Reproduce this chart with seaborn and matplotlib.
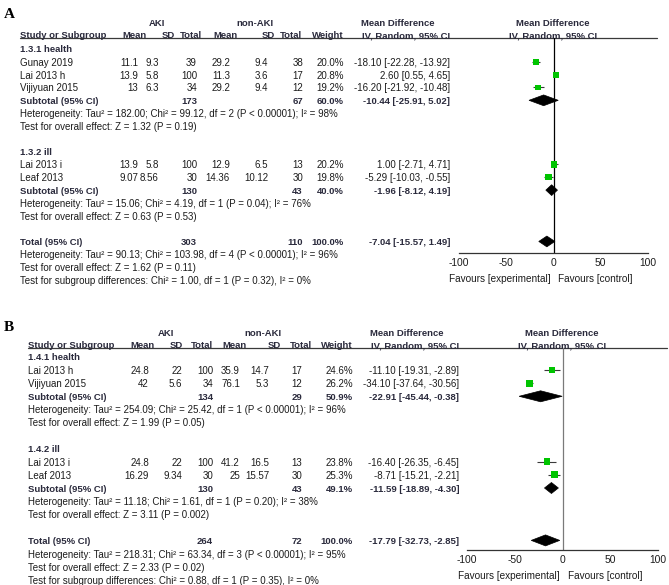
import numpy as np
import pandas as pd
import seaborn as sns
import matplotlib
matplotlib.use("Agg")
import matplotlib.pyplot as plt
from matplotlib.patches import Polygon

# ---------------- Panel A data ----------------
a_groups = ["1.3.1 health", "1.3.2 ill"]
a_study = ["Gunay 2019", "Lai 2013 h", "Vijiyuan 2015", "Lai 2013 i", "Leaf 2013"]
a_study_group = [0, 0, 0, 1, 1]
a_aki_mean = ["11.1", "13.9", "13", "13.9", "9.07"]
a_aki_sd = ["9.3", "5.8", "6.3", "5.8", "8.56"]
a_aki_n = ["39", "100", "34", "100", "30"]
a_non_mean = ["29.2", "11.3", "29.2", "12.9", "14.36"]
a_non_sd = ["9.4", "3.6", "9.4", "6.5", "10.12"]
a_non_n = ["38", "17", "12", "13", "30"]
a_weight = [20.0, 20.8, 19.2, 20.2, 19.8]
a_md = [-18.10, 2.60, -16.20, 1.00, -5.29]
a_lo = [-22.28, 0.55, -21.92, -2.71, -10.03]
a_hi = [-13.92, 4.65, -10.48, 4.71, -0.55]
a_sub_n_aki = ["173", "130"]
a_sub_n_non = ["67", "43"]
a_sub_weight = [60.0, 40.0]
a_sub_md = [-10.44, -1.96]
a_sub_lo = [-25.91, -8.12]
a_sub_hi = [5.02, 4.19]
a_sub_het = ["Heterogeneity: Tau² = 182.00; Chi² = 99.12, df = 2 (P < 0.00001); I² = 98%",
             "Heterogeneity: Tau² = 15.06; Chi² = 4.19, df = 1 (P = 0.04); I² = 76%"]
a_sub_test = ["Test for overall effect: Z = 1.32 (P = 0.19)",
              "Test for overall effect: Z = 0.63 (P = 0.53)"]
a_tot_n = ["303", "110"]
a_tot_weight = 100.0
a_tot_md, a_tot_lo, a_tot_hi = -7.04, -15.57, 1.49
a_tot_het = "Heterogeneity: Tau² = 90.13; Chi² = 103.98, df = 4 (P < 0.00001); I² = 96%"
a_tot_test = "Test for overall effect: Z = 1.62 (P = 0.11)"
a_sub_diff = "Test for subgroup differences: Chi² = 1.00, df = 1 (P = 0.32), I² = 0%"

# ---------------- Panel B data ----------------
b_groups = ["1.4.1 health", "1.4.2 ill"]
b_study = ["Lai 2013 h", "Vijiyuan 2015", "Lai 2013 i", "Leaf 2013"]
b_study_group = [0, 0, 1, 1]
b_aki_mean = ["24.8", "42", "24.8", "16.29"]
b_aki_sd = ["22", "5.6", "22", "9.34"]
b_aki_n = ["100", "34", "100", "30"]
b_non_mean = ["35.9", "76.1", "41.2", "25"]
b_non_sd = ["14.7", "5.3", "16.5", "15.57"]
b_non_n = ["17", "12", "13", "30"]
b_weight = [24.6, 26.2, 23.8, 25.3]
b_md = [-11.10, -34.10, -16.40, -8.71]
b_lo = [-19.31, -37.64, -26.35, -15.21]
b_hi = [-2.89, -30.56, -6.45, -2.21]
b_sub_n_aki = ["134", "130"]
b_sub_n_non = ["29", "43"]
b_sub_weight = [50.9, 49.1]
b_sub_md = [-22.91, -11.59]
b_sub_lo = [-45.44, -18.89]
b_sub_hi = [-0.38, -4.30]
b_sub_het = ["Heterogeneity: Tau² = 254.09; Chi² = 25.42, df = 1 (P < 0.00001); I² = 96%",
             "Heterogeneity: Tau² = 11.18; Chi² = 1.61, df = 1 (P = 0.20); I² = 38%"]
b_sub_test = ["Test for overall effect: Z = 1.99 (P = 0.05)",
              "Test for overall effect: Z = 3.11 (P = 0.002)"]
b_tot_n = ["264", "72"]
b_tot_weight = 100.0
b_tot_md, b_tot_lo, b_tot_hi = -17.79, -32.73, -2.85
b_tot_het = "Heterogeneity: Tau² = 218.31; Chi² = 63.34, df = 3 (P < 0.00001); I² = 95%"
b_tot_test = "Test for overall effect: Z = 2.33 (P = 0.02)"
b_sub_diff = "Test for subgroup differences: Chi² = 0.88, df = 1 (P = 0.35), I² = 0%"

x_ticks = [-100, -50, 0, 50, 100]
fav_left = "Favours [experimental]"
fav_right = "Favours [control]"

# ---------------- style ----------------
sns.set_style("white")
plt.rcParams["font.family"] = ["Liberation Sans", "DejaVu Sans"]

W, H = 669, 585
FS = 7.0
FSB = 6.8
TXT = "#1c1c1c"
HDR = "#2a2a3c"
GREEN = "#00c400"

fig = plt.figure(figsize=(W / 100, H / 100), dpi=100)
bg = fig.add_axes([0, 0, 1, 1])
bg.set_xlim(0, W)
bg.set_ylim(H, 0)
bg.axis("off")


def fmt_ci(m, l, h):
    return f"{m:.2f} [{l:.2f}, {h:.2f}]"


def txt(x, y, s, ha="left", bold=False, color=None, size=None):
    if size is None:
        size = FSB if bold else FS
    bg.text(x, y, s, ha=ha, va="center_baseline", fontsize=size,
            fontweight="bold" if bold else "normal",
            color=color if color else (HDR if bold else TXT))


def draw_panel(L, D):
    ry = lambda r: L["y0"] + L["dy"] * r
    bg.text(L["lab_x"], L["lab_y"], L["label"], ha="left", va="center_baseline",
            fontsize=11, fontweight="bold", color="black",
            family=["Liberation Serif", "DejaVu Serif"])
    # group headers
    txt(L["aki_c"], L["h1"], "AKI", ha="center", bold=True)
    txt(L["non_c"], L["h1"], "non-AKI", ha="center", bold=True)
    txt(L["cih1_c"], L["h1"], "Mean Difference", ha="center", bold=True)
    txt(L["pl_c"], L["h1"], "Mean Difference", ha="center", bold=True)
    txt(L["study_x"], L["h2"], "Study or Subgroup", bold=True)
    for key, lab in [("hmean", "Mean"), ("hsd", "SD"), ("htot", "Total"),
                     ("hnmean", "Mean"), ("hnsd", "SD"), ("hntot", "Total"),
                     ("weight", "Weight")]:
        txt(L[key], L["h2"], lab, ha="right", bold=True)
    txt(L["cih2_c"], L["h2"], "IV, Random, 95% CI", ha="center", bold=True)
    txt(L["pl_c"], L["h2"], "IV, Random, 95% CI", ha="center", bold=True)
    bg.plot([L["study_x"], L["line_x1"]], [L["line_y"], L["line_y"]],
            color="#3a3a3a", lw=0.9)

    # table rows
    r = 0
    s_rows, sub_rows = [], []
    for g, gname in enumerate(D["groups"]):
        txt(L["study_x"], ry(r), gname, bold=True)
        r += 1
        for i, gi in enumerate(D["study_group"]):
            if gi != g:
                continue
            y = ry(r)
            txt(L["study_x"], y, D["study"][i])
            txt(L["mean"], y, D["aki_mean"][i], ha="right")
            txt(L["sd"], y, D["aki_sd"][i], ha="right")
            txt(L["tot"], y, D["aki_n"][i], ha="right")
            txt(L["nmean"], y, D["non_mean"][i], ha="right")
            txt(L["nsd"], y, D["non_sd"][i], ha="right")
            txt(L["ntot"], y, D["non_n"][i], ha="right")
            txt(L["weight"], y, f"{D['weight'][i]:.1f}%", ha="right")
            txt(L["ci"], y, fmt_ci(D["md"][i], D["lo"][i], D["hi"][i]), ha="right")
            s_rows.append(r)
            r += 1
        y = ry(r)
        txt(L["study_x"], y, "Subtotal (95% CI)", bold=True)
        txt(L["tot"], y, D["sub_n_aki"][g], ha="right", bold=True)
        txt(L["ntot"], y, D["sub_n_non"][g], ha="right", bold=True)
        txt(L["weight"], y, f"{D['sub_weight'][g]:.1f}%", ha="right", bold=True)
        txt(L["ci"], y, fmt_ci(D["sub_md"][g], D["sub_lo"][g], D["sub_hi"][g]),
            ha="right", bold=True)
        sub_rows.append(r)
        txt(L["study_x"], ry(r + 1), D["sub_het"][g])
        txt(L["study_x"], ry(r + 2), D["sub_test"][g])
        r += 4
    tot_row = r
    y = ry(r)
    txt(L["study_x"], y, "Total (95% CI)", bold=True)
    txt(L["tot"], y, D["tot_n"][0], ha="right", bold=True)
    txt(L["ntot"], y, D["tot_n"][1], ha="right", bold=True)
    txt(L["weight"], y, f"{D['tot_weight']:.1f}%", ha="right", bold=True)
    txt(L["ci"], y, fmt_ci(D["tot_md"], D["tot_lo"], D["tot_hi"]), ha="right", bold=True)
    txt(L["study_x"], ry(r + 1), D["tot_het"])
    txt(L["study_x"], ry(r + 2), D["tot_test"])
    txt(L["study_x"], ry(r + 3), D["sub_diff"])

    # forest axes
    x0, x1, yt, yb = L["fx0"], L["fx1"], L["line_y"], L["axis_y"]
    ax = fig.add_axes([x0 / W, 1 - yb / H, (x1 - x0) / W, (yb - yt) / H])
    ax.patch.set_alpha(0)
    ax.set_xlim(-100, 100)
    ax.set_ylim((yb - L["y0"]) / L["dy"], (yt - L["y0"]) / L["dy"])
    for sp in ["top", "right", "left"]:
        ax.spines[sp].set_visible(False)
    ax.spines["bottom"].set_color("#333333")
    ax.spines["bottom"].set_linewidth(0.9)
    ax.axvline(0, color=L["zero_col"], lw=0.9, zorder=1)
    ax.set_yticks([])
    ax.set_xticks(x_ticks)
    ax.set_xticklabels([str(t) for t in x_ticks], fontsize=7.4, color=TXT)
    ax.tick_params(axis="x", direction="inout", length=5, width=0.8,
                   color="#333333", pad=1.0)

    df = pd.DataFrame({"md": D["md"], "lo": D["lo"], "hi": D["hi"],
                       "w": D["weight"], "row": s_rows})
    ax.hlines(df["row"], df["lo"], df["hi"], color="#3a3a3a", lw=0.8, zorder=2)
    sns.scatterplot(data=df, x="md", y="row", size="w", sizes=(0, 95),
                    size_norm=(0, 100), marker="s", color=GREEN, linewidth=0,
                    legend=False, ax=ax, zorder=3)
    ax.set_xlabel("")
    ax.set_ylabel("")
    h = 0.42
    dia = [(D["sub_md"][g], D["sub_lo"][g], D["sub_hi"][g], sub_rows[g])
           for g in range(len(D["groups"]))]
    dia.append((D["tot_md"], D["tot_lo"], D["tot_hi"], tot_row))
    for m, lo, hi, rr in dia:
        ax.add_patch(Polygon([(lo, rr), (m, rr - h), (hi, rr), (m, rr + h)],
                             closed=True, facecolor="black", edgecolor="black",
                             lw=0.5, zorder=4))
    # favours labels
    zero_px = x0 + (x1 - x0) / 2
    txt(zero_px - 3, L["fav_y"], fav_left, ha="right", size=7.2)
    txt(zero_px + 5, L["fav_y"], fav_right, ha="left", size=7.2)


LA = dict(label="A", lab_x=4, lab_y=13, h1=22, h2=35, study_x=20,
          aki_c=157, non_c=255, cih1_c=398, cih2_c=406, pl_c=553,
          hmean=147, hsd=175, htot=202, hnmean=238, hnsd=275, hntot=302,
          mean=138, sd=159, tot=197, nmean=230, nsd=268, ntot=303,
          weight=344, ci=450, line_x1=657, line_y=37.5,
          y0=49, dy=12.83, fx0=459, fx1=648, axis_y=253, fav_y=278,
          zero_col="black")
LB = dict(label="B", lab_x=4, lab_y=326, h1=332, h2=345, study_x=28,
          aki_c=166, non_c=263, cih1_c=407, cih2_c=415, pl_c=562,
          hmean=155, hsd=183, htot=213, hnmean=247, hnsd=281, hntot=312,
          mean=149, sd=182, tot=213, nmean=240, nsd=269, ntot=302,
          weight=353, ci=459, line_x1=667, line_y=348,
          y0=357, dy=13.1, fx0=467, fx1=658, axis_y=550, fav_y=575,
          zero_col="#7a7a7a")

DA = dict(groups=a_groups, study=a_study, study_group=a_study_group,
          aki_mean=a_aki_mean, aki_sd=a_aki_sd, aki_n=a_aki_n,
          non_mean=a_non_mean, non_sd=a_non_sd, non_n=a_non_n,
          weight=a_weight, md=a_md, lo=a_lo, hi=a_hi,
          sub_n_aki=a_sub_n_aki, sub_n_non=a_sub_n_non, sub_weight=a_sub_weight,
          sub_md=a_sub_md, sub_lo=a_sub_lo, sub_hi=a_sub_hi,
          sub_het=a_sub_het, sub_test=a_sub_test, tot_n=a_tot_n,
          tot_weight=a_tot_weight, tot_md=a_tot_md, tot_lo=a_tot_lo,
          tot_hi=a_tot_hi, tot_het=a_tot_het, tot_test=a_tot_test,
          sub_diff=a_sub_diff)
DB = dict(groups=b_groups, study=b_study, study_group=b_study_group,
          aki_mean=b_aki_mean, aki_sd=b_aki_sd, aki_n=b_aki_n,
          non_mean=b_non_mean, non_sd=b_non_sd, non_n=b_non_n,
          weight=b_weight, md=b_md, lo=b_lo, hi=b_hi,
          sub_n_aki=b_sub_n_aki, sub_n_non=b_sub_n_non, sub_weight=b_sub_weight,
          sub_md=b_sub_md, sub_lo=b_sub_lo, sub_hi=b_sub_hi,
          sub_het=b_sub_het, sub_test=b_sub_test, tot_n=b_tot_n,
          tot_weight=b_tot_weight, tot_md=b_tot_md, tot_lo=b_tot_lo,
          tot_hi=b_tot_hi, tot_het=b_tot_het, tot_test=b_tot_test,
          sub_diff=b_sub_diff)

draw_panel(LA, DA)
draw_panel(LB, DB)

fig.savefig("out.png", dpi=100)
